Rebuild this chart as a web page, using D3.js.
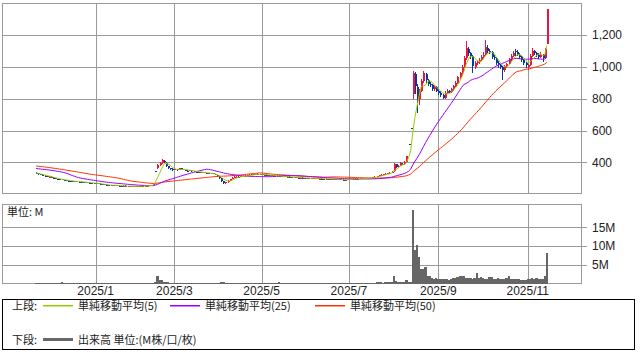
<!DOCTYPE html>
<html>
<head>
<meta charset="utf-8">
<title></title>
<script src="https://d3js.org/d3.v7.min.js"></script>
<style>
  body { margin: 0; background: #fff; }
  text { font-family: "Liberation Sans", Arial, sans-serif; fill: #222; }
  .jp { font-family: "Noto Sans CJK JP", "Noto Sans", sans-serif; }
</style>
</head>
<body>
<script>

// ---- data (daily, TSE trading days 2024/11/21 - 2025/11/17) ----
var firstDay = "2024-11-21", lastDay = "2025-11-17";
var holidays = ["2024-12-31","2025-01-01","2025-01-02","2025-01-03","2025-01-13","2025-02-11",
  "2025-02-24","2025-03-20","2025-04-29","2025-05-05","2025-05-06","2025-07-21","2025-08-11",
  "2025-09-15","2025-09-23","2025-10-13","2025-11-03"];
var monthLabels = ["2025/1","2025/3","2025/5","2025/7","2025/9","2025/11"];

// closes before the first visible day (only feed the moving averages)
var closesBefore = [385,390,395,398,402,400,396,392,388,390,394,398,395,390,386,388,392,396,394,390,387,389,392,395,390,
  370,362,356,352,350,348,350,352,348,346,350,356,362,
  372,398,420,410,400,392,385,
  345,338,332,328];

var opens = [
  336,331,327,324,317,315,307,310,304,301, 297,294,293,289,288,286,283,283,278,282,
  280,279,277,272,276,274,271,271,269,268, 266,264,262,260,258,255,259,254,258,255,
  253,250,254,251,248,250,253,251,247,250, 254,249,251,253,256,258,345,362,383,398,
  412,398,375,366,360,352,356,351,362,358, 353,349,347,350,345,342,340,338,336,337,
  334,332,330,331,327,320,312,300,284,270, 276,286,296,304,309,311,310,313,312,316,
  318,322,325,327,326,328,325,322,324,320, 318,320,316,314,317,312,310,312,309,311,
  308,306,307,305,303,305,302,301,303,300, 301,299,300,298,299,297,296,298,295,294,
  296,293,292,294,291,290,292,293,295,296, 298,297,299,300,298,301,302,300,303,306,
  310,314,319,322,325,328,332,336,345,388, 372,378,393,390,402,518,618,830,955,875,
  795,850,910,955,915,895,888,860,875,850, 835,822,806,838,850,842,858,880,900,935,
  958,1000,1055,1110,1085,1068,1000,1022,1030,1045, 1062,1072,1120,1100,1092,1062,1052,1022,1008,996,
  978,1002,1015,1046,1070,1100,1095,1075,1062,1040, 1022,1000,1012,1068,1100,1088,1072,1062,1075,1058,
  1145];
var highs = [
  338,333,329,326,319,317,312,312,306,302, 299,296,295,291,290,288,285,285,284,284,
  282,281,279,277,278,276,273,273,271,270, 268,266,264,262,260,261,260,259,260,257,
  255,256,256,253,253,254,255,253,253,256, 256,254,257,259,261,264,347,390,402,422,
  418,400,378,368,362,359,358,368,364,360, 355,351,352,351,347,344,342,340,339,338,
  336,334,333,332,328,321,313,301,286,280, 289,299,307,312,314,313,315,315,318,321,
  325,328,330,329,331,329,327,326,325,322, 322,322,318,319,318,314,314,313,313,312,
  310,309,308,307,307,306,304,305,304,303, 302,302,301,301,300,299,300,299,297,298,
  297,295,296,295,293,294,295,297,298,300, 300,301,302,302,303,304,304,305,308,313,
  317,322,325,328,331,335,339,346,398,392, 382,400,398,410,440,518,618,975,968,890,
  860,925,975,960,925,905,895,885,880,860, 845,830,845,858,856,865,888,912,945,970,
  1012,1068,1160,1125,1095,1075,1035,1045,1058,1075, 1090,1165,1135,1110,1100,1075,1060,1035,1020,1005,
  1012,1025,1055,1080,1098,1110,1105,1085,1070,1050, 1030,1020,1080,1115,1108,1095,1085,1090,1082,1118,
  1365];
var lows = [
  328,323,319,315,311,309,305,302,298,295, 292,289,287,285,283,281,279,277,276,276,
  275,273,271,270,270,268,267,265,264,263, 261,258,256,254,253,253,252,252,251,249,
  248,248,247,246,246,248,248,245,245,248, 247,247,249,251,254,256,343,358,378,392,
  396,370,360,355,349,350,348,350,355,350, 346,344,345,343,340,338,336,334,334,332,
  330,328,328,325,318,308,296,276,262,266, 273,284,293,301,306,307,308,309,310,314,
  316,320,323,324,324,322,320,319,318,315, 315,313,311,312,309,307,308,306,307,305,
  303,303,302,300,301,299,298,299,297,298, 296,297,295,296,294,293,294,292,291,292,
  290,289,290,288,287,288,290,291,293,294, 294,295,297,296,296,299,298,298,301,304,
  308,312,317,320,323,326,330,334,343,368, 365,375,384,386,398,516,616,800,830,707,
  760,840,900,900,880,870,850,850,840,825, 810,795,800,830,835,838,850,872,895,925,
  950,995,1045,1070,1050,960,985,1010,1020,1035, 1050,1065,1085,1078,1050,1040,1010,995,985,918,
  965,990,1008,1038,1060,1070,1065,1050,1030,1010, 990,978,1005,1060,1075,1060,1050,1055,1030,1050,
  1140];
var closes = [
  330,326,322,318,314,311,309,305,300,297, 295,292,290,288,286,284,282,280,281,279,
  278,276,274,275,273,271,270,268,267,266, 264,261,259,257,256,258,255,257,254,252,
  251,253,250,249,251,252,250,248,251,253, 250,252,255,257,259,262,345,385,396,415,
  400,375,365,360,352,356,351,363,358,353, 349,347,350,345,342,340,338,336,337,334,
  332,330,331,327,320,312,300,284,272,276, 286,296,304,309,311,310,313,312,316,318,
  322,325,327,326,328,325,322,324,320,318, 320,316,314,317,312,310,312,309,311,308,
  306,307,305,303,305,302,301,303,300,301, 299,300,298,299,297,296,298,295,294,296,
  293,292,294,291,290,292,293,295,296,298, 297,299,300,298,301,302,300,303,306,310,
  314,319,322,325,328,332,336,342,390,372, 378,395,388,402,438,518,618,960,880,790,
  850,910,962,915,895,888,860,875,850,835, 822,806,838,850,842,858,880,900,935,958,
  1000,1055,1115,1085,1068,1002,1022,1030,1045,1062, 1072,1125,1100,1092,1062,1052,1022,1008,996,978,
  1002,1015,1046,1070,1088,1090,1075,1062,1040,1022, 1008,1012,1068,1102,1088,1072,1062,1075,1058,1110,
  1360];
// volume, millions of shares
var volumes = [
  .2,.15,.2,.18,.15,.2,.22,.15,.18,.2, .2,.25,.45,.2,.15,.18,.2,.15,.2,.18,
  .15,.12,.15,.18,.12,.1,.15,.12,.1,.15, .12,.15,.1,.12,.15,.1,.12,.1,.15,.12,
  .1,.12,.15,.1,.12,.1,.15,.12,.1,.12, .12,.15,.12,.1,.15,.2,.3,1.9,.9,.9,
  .45,.4,.3,.25,.2,.2,.18,.25,.2,.15, .15,.12,.15,.12,.1,.12,.1,.12,.1,.12,
  .1,.12,.1,.12,.15,.18,.2,.3,.35,.25, .2,.18,.15,.15,.12,.12,.1,.12,.1,.12,
  .12,.15,.2,.12,.1,.12,.1,.12,.1,.12, .1,.12,.15,.12,.4,.15,.12,.1,.12,.1,
  .1,.12,.1,.1,.12,.1,.08,.1,.1,.08, .1,.08,.1,.08,.1,.1,.08,.1,.08,.1,
  .08,.1,.08,.1,.08,.1,.1,.12,.1,.12, .1,.12,.1,.12,.1,.15,.12,.15,.2,.25,
  .3,.35,.3,.25,.3,.35,.3,.4,1.95,.7, .3,.4,.3,.5,.9,.3,.4,19.5,8.9,10.2,
  7.1,4.0,4.0,4.4,2.0,1.95,1.6,1.3,1.4,1.2, 1.1,1.3,1.2,1.1,1.0,1.2,1.6,1.6,1.7,2.0,
  1.9,2.0,1.6,1.5,1.4,1.3,1.6,2.8,1.6,1.7, 1.5,1.2,1.3,1.8,1.8,1.3,1.2,1.4,1.1,1.3,
  1.2,1.4,1.9,1.3,1.2,1.1,1.3,1.2,1.0,0.9, 1.0,1.3,1.3,1.6,1.3,1.4,1.2,1.3,1.1,2.0,
  8.1];

var maPeriods = [5, 25, 50];
var priceTicks = [400, 600, 800, 1000, 1200];
var volumeTicks = [5, 10, 15];

// ---- layout ----
var width = 640, height = 354;
var maColors = ["#99cc00", "#9900ff", "#ff3300"];
var upColor = "#ee1144", downColor = "#0b3a96", gridColor = "#9a9a9a";

var fmtDay = d3.utcFormat("%Y-%m-%d"), fmtMonth = d3.utcFormat("%Y/%-m");
var days = d3.utcDays(new Date(firstDay), d3.utcDay.offset(new Date(lastDay), 1))
  .filter(function(d) { return d.getUTCDay() % 6 !== 0 && holidays.indexOf(fmtDay(d)) < 0; });
var n = closes.length;

var monthIdx = monthLabels.map(function(m) {
  return d3.range(days.length).find(function(i) { return fmtMonth(days[i]) === m; });
});

var x = d3.scaleLinear().domain([-16, n - 1 + 16.5]).range([2, 582]);
var y = d3.scaleLinear().domain([205, 1400]).range([193.5, 3]);
var yv = d3.scaleLinear().domain([0, 21.2]).range([283.5, 204]);
var step = x(1) - x(0);
var bw = 2;

function px(v) { return Math.round(v) + 0.5; }

var svg = d3.select("body").append("svg")
    .attr("width", width)
    .attr("height", height);

// grid
function grid(top, bottom, scale, ticks) {
  var g = svg.append("g").attr("stroke", gridColor).attr("stroke-width", 1);
  g.selectAll(".v").data(monthIdx).enter().append("line")
      .attr("x1", function(i) { return px(x(i)); }).attr("x2", function(i) { return px(x(i)); })
      .attr("y1", top).attr("y2", bottom);
  g.selectAll(".h").data(ticks).enter().append("line")
      .attr("x1", 2).attr("x2", 587)
      .attr("y1", function(t) { return px(scale(t)); }).attr("y2", function(t) { return px(scale(t)); });
  g.append("rect")
      .attr("x", 2.5).attr("y", top + 0.5)
      .attr("width", 579).attr("height", bottom - top - 1)
      .attr("fill", "none");
}
grid(3, 194, y, priceTicks);
grid(204, 284, yv, volumeTicks);

// candles
var candles = svg.append("g").attr("shape-rendering", "crispEdges");
candles.selectAll("line").data(closes).enter().append("line")
    .attr("x1", function(c, i) { return px(x(i)); })
    .attr("x2", function(c, i) { return px(x(i)); })
    .attr("y1", function(c, i) { return y(highs[i]); })
    .attr("y2", function(c, i) { return y(lows[i]); })
    .attr("stroke", function(c, i) { return c > opens[i] ? upColor : downColor; });
candles.selectAll("rect").data(closes).enter().append("rect")
    .attr("x", function(c, i) { return Math.round(x(i)) - bw / 2 + 0.5; })
    .attr("y", function(c, i) { return y(Math.max(c, opens[i])); })
    .attr("width", bw)
    .attr("height", function(c, i) { return Math.max(1, Math.abs(y(c) - y(opens[i]))); })
    .attr("fill", function(c, i) { return c > opens[i] ? upColor : downColor; });

// moving averages
var allCloses = closesBefore.concat(closes);
function sma(p) {
  return closes.map(function(c, i) {
    var j = i + closesBefore.length;
    return d3.mean(allCloses.slice(j - p + 1, j + 1));
  });
}
var line = d3.line()
    .x(function(d, i) { return x(i); })
    .y(function(d) { return y(d); });
maPeriods.slice().reverse().forEach(function(p) {
  svg.append("path")
      .datum(sma(p))
      .attr("d", line)
      .attr("fill", "none")
      .attr("stroke", maColors[maPeriods.indexOf(p)])
      .attr("stroke-width", 1);
});

// volume
svg.append("g").attr("shape-rendering", "crispEdges")
  .selectAll("rect").data(volumes).enter().append("rect")
    .attr("x", function(v, i) { return x(i) - step / 2; })
    .attr("y", function(v) { return yv(v); })
    .attr("width", step + 0.2)
    .attr("height", function(v) { return yv(0) - yv(v); })
    .attr("fill", "#666");

// axis labels
svg.selectAll(".py").data(priceTicks).enter().append("text")
    .attr("x", 592).attr("y", function(t) { return y(t); })
    .attr("dy", "0.36em")
    .attr("font-size", 12)
    .text(d3.format(","));
svg.selectAll(".vy").data(volumeTicks).enter().append("text")
    .attr("x", 592).attr("y", function(t) { return yv(t); })
    .attr("dy", "0.36em")
    .attr("font-size", 12)
    .text(function(t) { return t + "M"; });
svg.selectAll(".mx").data(monthIdx).enter().append("text")
    .attr("x", function(i) { return x(i); }).attr("y", 295)
    .attr("text-anchor", "middle")
    .attr("font-size", 12)
    .text(function(i, k) { return monthLabels[k]; });
svg.append("text").attr("class", "jp")
    .attr("x", 7).attr("y", 216).attr("font-size", 11)
    .text("単位: M");

// legend
var legend = svg.append("g");
legend.append("rect")
    .attr("x", 2.5).attr("y", 299.5).attr("width", 632).attr("height", 50)
    .attr("fill", "none").attr("stroke", "#000");
legend.append("text").attr("class", "jp").attr("x", 12).attr("y", 310).attr("font-size", 11).text("上段:");
var legendX = [43, 170, 315];
maPeriods.forEach(function(p, k) {
  legend.append("rect")
      .attr("x", legendX[k]).attr("y", 305)
      .attr("width", 30).attr("height", 1.5)
      .attr("fill", maColors[k]);
  legend.append("text").attr("class", "jp")
      .attr("x", legendX[k] + 35).attr("y", 310).attr("font-size", 11)
      .text("単純移動平均(" + p + ")");
});
legend.append("text").attr("class", "jp").attr("x", 12).attr("y", 344).attr("font-size", 11).text("下段:");
legend.append("rect")
    .attr("x", 43).attr("y", 338).attr("width", 30).attr("height", 3)
    .attr("fill", "#666");
legend.append("text").attr("class", "jp").attr("x", 78).attr("y", 344).attr("font-size", 11)
    .text("出来高 単位:(M株/口/枚)");

</script>
</body>
</html>
